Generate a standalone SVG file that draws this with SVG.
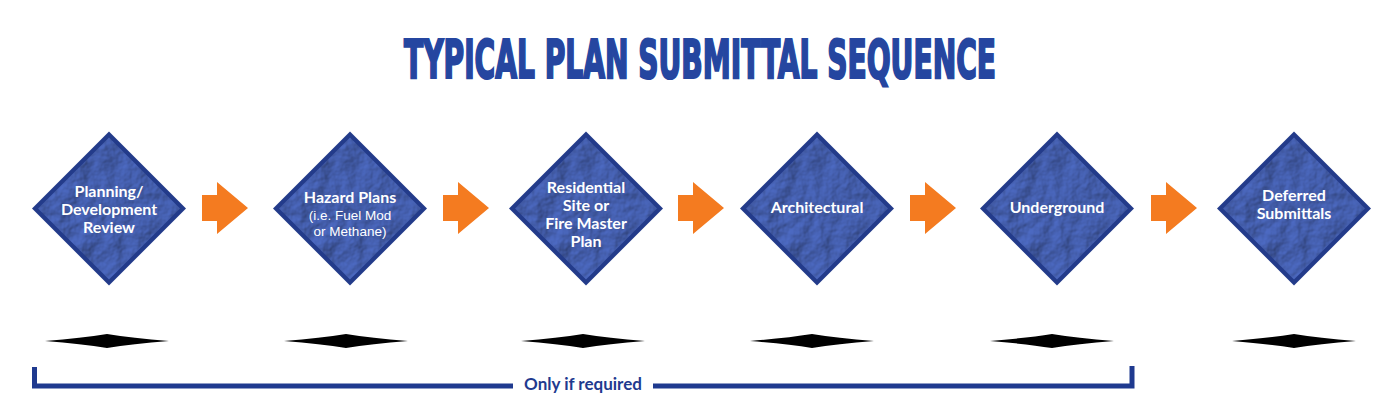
<svg xmlns="http://www.w3.org/2000/svg" width="1400" height="420" viewBox="0 0 1400 420">
<defs>
<filter id="crumple" x="0" y="0" width="1" height="1" color-interpolation-filters="sRGB">
<feTurbulence type="fractalNoise" baseFrequency="0.045" numOctaves="4" seed="7" result="n"/>
<feDiffuseLighting in="n" surfaceScale="2.5" lighting-color="#ffffff" result="light"><feDistantLight azimuth="225" elevation="60"/></feDiffuseLighting>
<feComposite in="light" in2="SourceGraphic" operator="arithmetic" k1="1" k2="0" k3="0" k4="0"/>
</filter>
<path id="dmd" d="M0,-77 L77,0 L0,77 L-77,0 Z"/>
<path id="dmdIn" d="M0,-71 L71,0 L0,71 L-71,0 Z"/>
<path id="arw" d="M0,-13 L15,-13 L15,-26 L46,0 L15,26 L15,13 L0,13 Z"/>
<path id="shd" d="M-62,0 Q-25,-3 0,-7 Q25,-3 62,0 Q25,3 0,7 Q-25,3 -62,0 Z"/>
</defs>
<style>
.outer{fill:#233b8a}
.inner{fill:#4e6cc6;filter:url(#crumple)}
.arrow{fill:#f47b20}
.shadow{fill:#000}
.lbl{font-family:Lato,"Open Sans","Liberation Sans",sans-serif;font-weight:700;font-size:16px;fill:#ffffff;text-anchor:middle}
.sub{font-family:"Liberation Sans",Arial,sans-serif;font-weight:400;font-size:13.5px;fill:#ffffff;text-anchor:middle}
.title{font-family:"DejaVu Sans Condensed","DejaVu Sans",sans-serif;font-weight:700;font-size:54px;fill:#2546a0;stroke:#2546a0;stroke-width:2.2;stroke-linejoin:miter;text-anchor:middle}
.bracket{fill:none;stroke:#1f3a8f;stroke-width:5}
.note{font-family:Lato,"Open Sans","Liberation Sans",sans-serif;font-weight:700;font-size:17px;fill:#1f3a8f;text-anchor:middle}
</style>
<rect width="1400" height="420" fill="#ffffff"/>
<text id="title" class="title" x="700" y="78" textLength="592" lengthAdjust="spacingAndGlyphs">TYPICAL PLAN SUBMITTAL SEQUENCE</text>

<g id="node-planning" transform="translate(109,208.5)">
<use href="#dmd" class="outer"/><use href="#dmdIn" class="inner"/>
<text class="lbl" x="0" y="-12">Planning/</text>
<text class="lbl" x="0" y="6">Development</text>
<text class="lbl" x="0" y="24">Review</text>
</g>
<g id="node-hazard" transform="translate(350,208.5)">
<use href="#dmd" class="outer"/><use href="#dmdIn" class="inner"/>
<text class="lbl" x="0" y="-6">Hazard Plans</text>
<text class="sub" x="0" y="11">(i.e. Fuel Mod</text>
<text class="sub" x="0" y="27">or Methane)</text>
</g>
<g id="node-residential" transform="translate(586,208.5)">
<use href="#dmd" class="outer"/><use href="#dmdIn" class="inner"/>
<text class="lbl" x="0" y="-16">Residential</text>
<text class="lbl" x="0" y="2">Site or</text>
<text class="lbl" x="0" y="20">Fire Master</text>
<text class="lbl" x="0" y="38">Plan</text>
</g>
<g id="node-architectural" transform="translate(817,208.5)">
<use href="#dmd" class="outer"/><use href="#dmdIn" class="inner"/>
<text class="lbl" x="0" y="4">Architectural</text>
</g>
<g id="node-underground" transform="translate(1057,208.5)">
<use href="#dmd" class="outer"/><use href="#dmdIn" class="inner"/>
<text class="lbl" x="0" y="4">Underground</text>
</g>
<g id="node-deferred" transform="translate(1294,208.5)">
<use href="#dmd" class="outer"/><use href="#dmdIn" class="inner"/>
<text class="lbl" x="0" y="-8">Deferred</text>
<text class="lbl" x="0" y="10">Submittals</text>
</g>

<g id="connectors">
<use href="#arw" class="arrow" x="202" y="208"/>
<use href="#arw" class="arrow" x="443" y="208"/>
<use href="#arw" class="arrow" x="678" y="208"/>
<use href="#arw" class="arrow" x="910" y="208"/>
<use href="#arw" class="arrow" x="1151" y="208"/>
</g>

<g id="shadows">
<use href="#shd" class="shadow" x="107" y="341"/>
<use href="#shd" class="shadow" x="346" y="341"/>
<use href="#shd" class="shadow" x="583" y="341"/>
<use href="#shd" class="shadow" x="812" y="341"/>
<use href="#shd" class="shadow" x="1052" y="341"/>
<use href="#shd" class="shadow" x="1294" y="341"/>
</g>

<g id="bracket">
<path class="bracket" d="M34.5,367 V386 H513"/>
<path class="bracket" d="M653,386 H1132 V366"/>
<text class="note" x="583" y="390">Only if required</text>
</g>
</svg>
